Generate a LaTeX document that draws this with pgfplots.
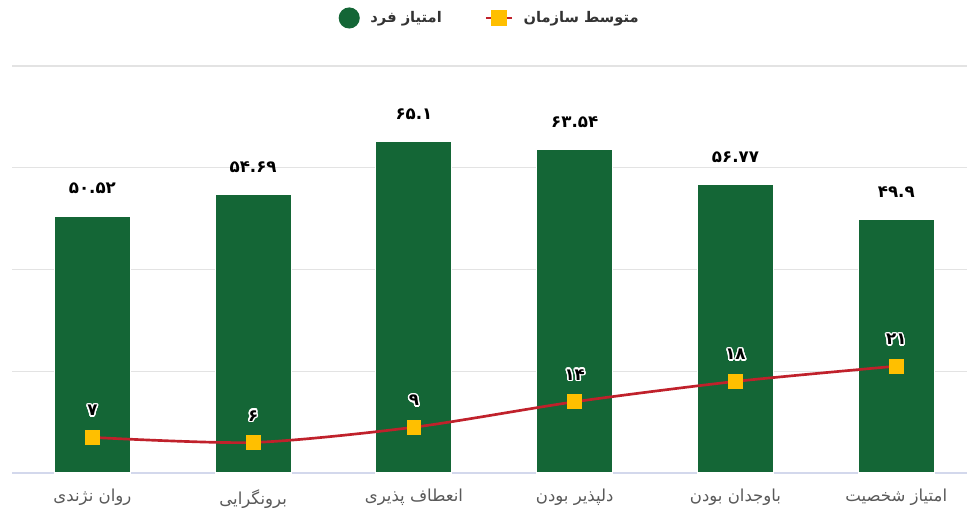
\documentclass[border=0pt]{standalone}
\usepackage{fontspec}
\usepackage{pgfplots}
\pgfplotsset{compat=1.18}
\usepackage{pgfplotstable}
\usepackage{contour}
\TeXXeTstate=1
\newfontfamily\fa[Script=Arabic]{DejaVu Sans}
\setmainfont{DejaVu Sans}
\definecolor{barg}{HTML}{146636}
\definecolor{linered}{HTML}{C0212B}
\definecolor{yel}{HTML}{FFBF00}
\definecolor{gridc}{HTML}{E3E3E3}
\definecolor{basec}{HTML}{D3D8EC}
\definecolor{tickc}{HTML}{595959}
\contourlength{1.1pt}
\contournumber{16}
\pgfplotstableread{
x y lab
0 50.52 ۵۰.۵۲
1 54.69 ۵۴.۶۹
2 65.1 ۶۵.۱
3 63.54 ۶۳.۵۴
4 56.77 ۵۶.۷۷
5 49.9 ۴۹.۹
}\bars
\pgfplotstableread{
x y lab
0 7 ۷
1 6 ۶
2 9 ۹
3 14 ۱۴
4 18 ۱۸
5 21 ۲۱
}\org
\begin{document}
\begin{tikzpicture}
\useasboundingbox (-9pt,-31.5pt) rectangle (716.25pt,354.75pt);
\begin{axis}[
  scale only axis,
  width=716.25pt, height=305.25pt,
  xmin=-0.5, xmax=5.44,
  ymin=0, ymax=80,
  ytick={20,40,60,80},
  yticklabels={},
  extra y ticks={0},
  extra y tick labels={},
  extra y tick style={grid style={basec, line width=1.2pt}},
  ymajorgrids,
  grid style={gridc, line width=0.9pt},
  xtick={0,1,2,3,4,5},
  xticklabels={{\beginR روان نژندی\endR},{\beginR برونگرایی\endR},{\beginR انعطاف پذیری\endR},{\beginR دلپذیر بودن\endR},{\beginR باوجدان بودن\endR},{\beginR امتیاز شخصیت\endR}},
  xticklabel style={font=\fa\fontsize{12.4}{14}\selectfont, text=tickc, inner sep=0pt, yshift=-12pt},
  major tick length=0pt,
  axis line style={draw=none},
  clip=false,
  legend style={at={(0.5005,1.118)}, anchor=center, draw=none, fill=none,
    legend columns=2, font=\fa\bfseries\fontsize{11}{14}\selectfont, text=black!80,
    /tikz/every odd column/.append style={column sep=6pt},
    /tikz/every even column/.append style={column sep=30pt}},
  legend cell align=left,
]
\addplot[ybar, bar width=57pt, fill=barg, draw=white, line width=0.8pt,
  point meta=explicit symbolic,
  nodes near coords={\fa\bfseries\fontsize{12.5}{15}\selectfont\pgfplotspointmeta},
  nodes near coords style={anchor=south, inner sep=0pt, yshift=16pt, text=black},
  legend image code/.code={\fill[barg] (0,0) circle (7.5pt);}
] table[x=x, y=y, meta=lab] {\bars};
\addlegendentry{\beginR امتیاز فرد\endR}
\addplot[linered, line width=2pt, smooth, tension=0.45,
  mark=square*, mark size=5.2pt, mark options={solid, fill=yel, draw=yel, line width=0pt},
  point meta=explicit symbolic,
  nodes near coords={\fa\bfseries\fontsize{12.5}{15}\selectfont\contour{white}{\pgfplotspointmeta}},
  nodes near coords style={anchor=south, inner sep=0pt, yshift=15pt, text=black},
  legend image code/.code={\draw[linered, line width=2pt] (-0.34cm,0) -- (0.34cm,0); \fill[yel] (-5pt,-5pt) rectangle (5pt,5pt);}
] table[x=x, y=y, meta=lab] {\org};
\addlegendentry{\beginR متوسط سازمان\endR}
\end{axis}
\end{tikzpicture}
\end{document}
